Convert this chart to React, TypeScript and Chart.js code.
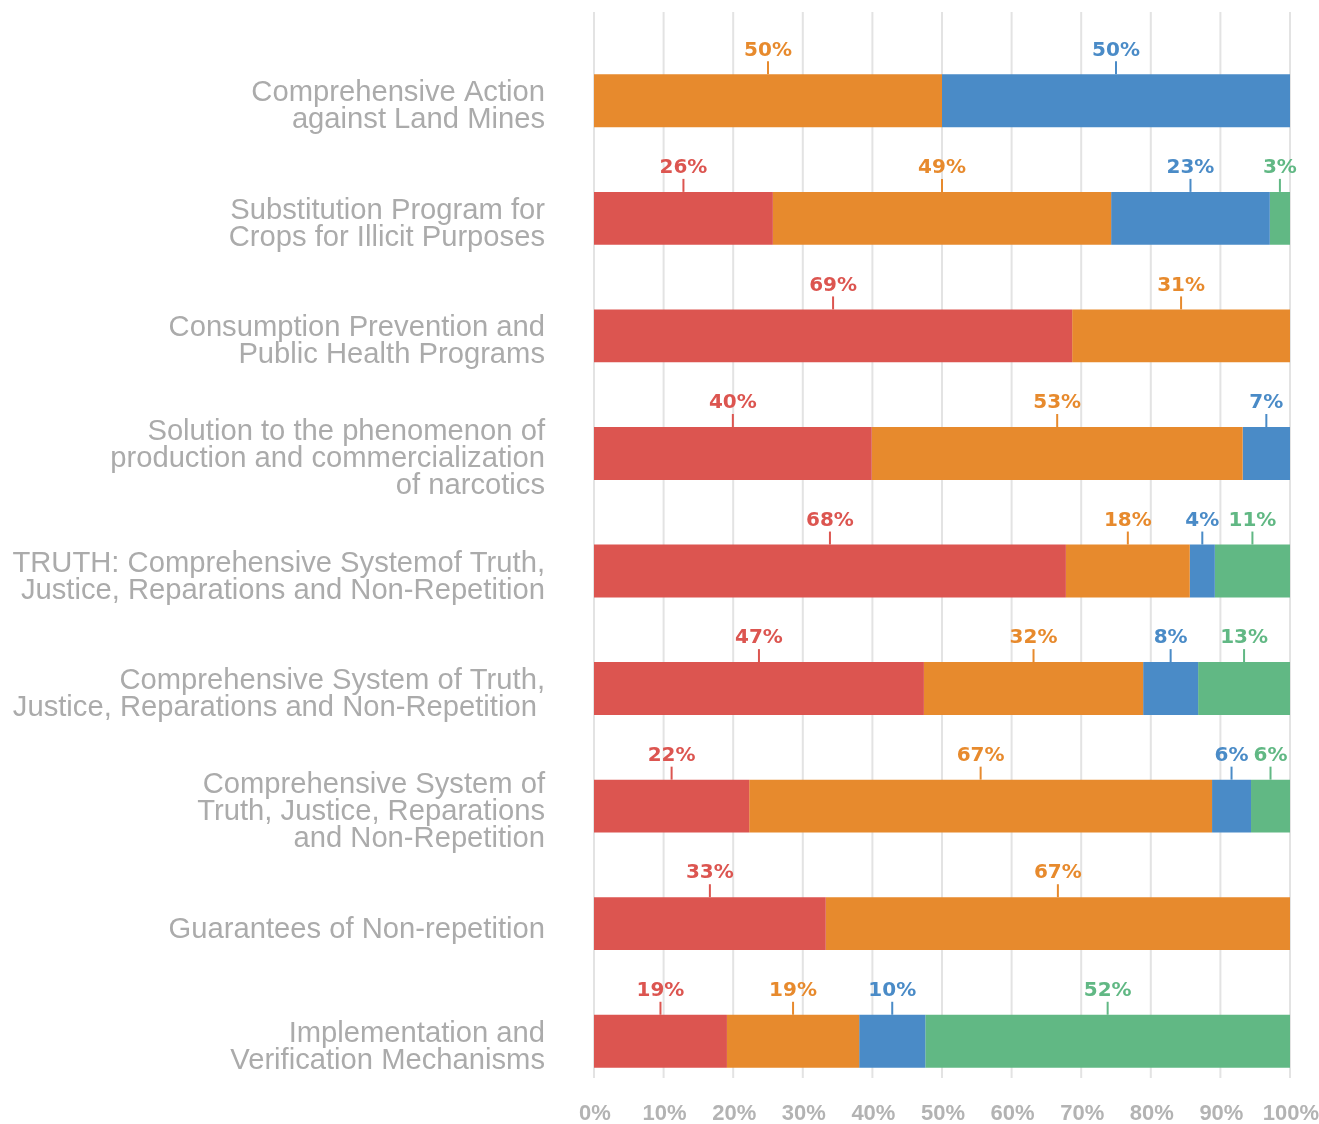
import React, { useEffect, useRef } from 'react';
import { Chart, registerables } from 'chart.js';

Chart.register(...registerables);

const categories: string[][] = [
  ['Comprehensive Action', 'against Land Mines'],
  ['Substitution Program for', 'Crops for Illicit Purposes'],
  ['Consumption Prevention and', 'Public Health Programs'],
  ['Solution to the phenomenon of', 'production and commercialization', 'of narcotics'],
  ['TRUTH: Comprehensive Systemof Truth,', 'Justice, Reparations and Non-Repetition'],
  ['Comprehensive System of Truth,', 'Justice, Reparations and Non-Repetition '],
  ['Comprehensive System of', 'Truth, Justice, Reparations', 'and Non-Repetition'],
  ['Guarantees of Non-repetition'],
  ['Implementation and', 'Verification Mechanisms'],
];

const redValues = [0, 25.7, 68.7, 39.9, 67.8, 47.4, 22.3, 33.3, 19.1];
const orangeValues = [50, 48.6, 31.3, 53.3, 17.8, 31.5, 66.5, 66.7, 19.0];
const blueValues = [50, 22.8, 0, 6.8, 3.6, 7.9, 5.6, 0, 9.5];
const greenValues = [0, 2.9, 0, 0, 10.8, 13.2, 5.6, 0, 52.4];

const seriesNames = ['Series 1', 'Series 2', 'Series 3', 'Series 4'];
const seriesColors = ['#DC5550', '#E78A2D', '#4A8BC7', '#61B884'];

const xMin = 0;
const xMax = 100;
const xStep = 10;

const gridPlugin = {
  id: 'customGrid',
  beforeDatasetsDraw(chart: any) {
    const { ctx, chartArea } = chart;
    const xs = chart.scales.x;
    ctx.save();
    ctx.strokeStyle = '#e3e3e3';
    ctx.lineWidth = 2;
    xs.ticks.forEach((t: any) => {
      const x = xs.getPixelForValue(t.value);
      ctx.beginPath();
      ctx.moveTo(x, chartArea.top - 30);
      ctx.lineTo(x, chartArea.bottom - 22);
      ctx.stroke();
    });
    ctx.restore();
  },
};

const labelPlugin = {
  id: 'segmentLabels',
  afterDatasetsDraw(chart: any) {
    const ctx = chart.ctx;
    chart.data.datasets.forEach((ds: any, di: number) => {
      const meta = chart.getDatasetMeta(di);
      meta.data.forEach((bar: any, i: number) => {
        const v = ds.data[i];
        if (!v) return;
        const { x, y, base, height } = bar.getProps(['x', 'y', 'base', 'height'], true);
        const cx = (x + base) / 2;
        const top = y - height / 2;
        ctx.save();
        ctx.strokeStyle = ds.backgroundColor;
        ctx.lineWidth = 2;
        ctx.beginPath();
        ctx.moveTo(cx, top);
        ctx.lineTo(cx, top - 13);
        ctx.stroke();
        ctx.fillStyle = ds.backgroundColor;
        ctx.font = 'bold 20px "DejaVu Sans"';
        ctx.textAlign = 'center';
        ctx.textBaseline = 'middle';
        ctx.fillText(Math.round(v) + '%', cx, top - 24);
        ctx.restore();
      });
    });
  },
};

export default function App() {
  const canvasRef = useRef<HTMLCanvasElement | null>(null);

  useEffect(() => {
    document.body.style.margin = '0';
    document.body.style.overflow = 'hidden';
    const canvas = canvasRef.current;
    if (!canvas) return;
    const values = [redValues, orangeValues, blueValues, greenValues];
    const chart = new Chart(canvas, {
      type: 'bar',
      data: {
        labels: categories,
        datasets: values.map((d, i) => ({
          label: seriesNames[i],
          data: d,
          backgroundColor: seriesColors[i],
          borderWidth: 0,
          barPercentage: 0.45,
          categoryPercentage: 1,
        })),
      },
      options: {
        indexAxis: 'y',
        animation: false,
        responsive: false,
        layout: { padding: { top: 42, right: 29, bottom: 0, left: 0 } },
        plugins: {
          legend: { display: false },
          tooltip: { enabled: false },
        },
        scales: {
          x: {
            stacked: true,
            min: xMin,
            max: xMax,
            grid: { display: false, drawTicks: false },
            border: { display: false },
            ticks: {
              stepSize: xStep,
              padding: 1,
              labelOffset: 1,
              color: '#b3b3b3',
              font: { family: '"Liberation Sans", Arial, sans-serif', size: 22, weight: 'bold' },
              callback: (v: any) => v + '%',
              maxRotation: 0,
              autoSkip: false,
            },
            afterFit: (scale: any) => {
              scale.height = 24;
              scale.paddingLeft = 0;
              scale.paddingRight = 0;
            },
          },
          y: {
            stacked: true,
            grid: { display: false, drawTicks: false },
            border: { display: false },
            ticks: {
              padding: 49,
              labelOffset: 6,
              color: '#ababab',
              font: { family: '"Liberation Sans", Arial, sans-serif', size: 29.2, lineHeight: '27px' },
              autoSkip: false,
            },
            afterFit: (scale: any) => {
              scale.width = 594;
              scale.paddingTop = 0;
              scale.paddingBottom = 0;
            },
          },
        },
      } as any,
      plugins: [gridPlugin, labelPlugin],
    });
    return () => chart.destroy();
  }, []);

  return (
    <div style={{ width: 1319, height: 1124 }}>
      <canvas ref={canvasRef} width={1319} height={1124} />
    </div>
  );
}
